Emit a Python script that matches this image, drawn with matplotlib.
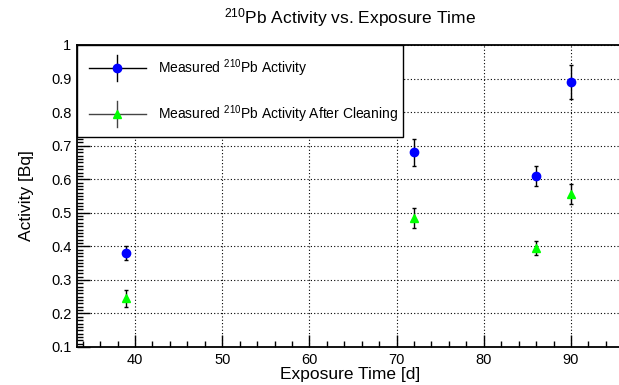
import matplotlib
matplotlib.use("Agg")
import matplotlib.pyplot as plt
from matplotlib.patches import Rectangle
from matplotlib.lines import Line2D
from matplotlib.ticker import MultipleLocator

plt.rcParams['font.family'] = ['Liberation Sans', 'DejaVu Sans']
plt.rcParams['mathtext.default'] = 'regular'

# Data
exposure_days = [39, 72, 86, 90]
activity = [0.38, 0.68, 0.61, 0.89]
activity_err = [0.02, 0.04, 0.03, 0.05]
activity_clean = [0.245, 0.485, 0.395, 0.555]
activity_clean_err = [0.025, 0.03, 0.02, 0.03]

title = r'$^{210}$Pb Activity vs. Exposure Time'
label1 = r'Measured $^{210}$Pb Activity'
label2 = r'Measured $^{210}$Pb Activity After Cleaning'

W, H = 619, 385
fig = plt.figure(figsize=(W / 100, H / 100), dpi=100)
left_px, right_px, top_px, bot_px = 77, 623.3, 45, 347
ax = fig.add_axes([left_px / W, 1 - bot_px / H, (right_px - left_px) / W, (bot_px - top_px) / H])

ax.set_xlim(33.35, 96)
ax.set_ylim(0.1, 1.0)

ax.errorbar(exposure_days, activity, yerr=activity_err, fmt='o', color='#0000ff',
            ecolor='black', elinewidth=1.0, capsize=1.5, markersize=6, zorder=3)
ax.errorbar(exposure_days, activity_clean, yerr=activity_clean_err, fmt='^', color='#00ff00',
            ecolor='black', elinewidth=1.0, capsize=1.5, markersize=6, zorder=3)

ax.xaxis.set_major_locator(MultipleLocator(10))
ax.xaxis.set_minor_locator(MultipleLocator(2))
ax.yaxis.set_major_locator(MultipleLocator(0.1))
ax.yaxis.set_minor_locator(MultipleLocator(0.01))
ax.set_yticks([0.1, 0.2, 0.3, 0.4, 0.5, 0.6, 0.7, 0.8, 0.9, 1.0])
ax.set_yticklabels(['0.1', '0.2', '0.3', '0.4', '0.5', '0.6', '0.7', '0.8', '0.9', '1'])
ax.tick_params(which='both', direction='in', labelsize=10.5, width=1, color='black')
ax.tick_params(which='major', length=9, pad=4)
ax.tick_params(which='minor', length=4.5)
ax.grid(True, which='major', color='black', linestyle=(0, (1, 2)), linewidth=0.8)
for s in ax.spines.values():
    s.set_linewidth(1.3)

ax.set_xlabel('Exposure Time [d]', fontsize=12.5, labelpad=0)
ax.set_ylabel('Activity [Bq]', fontsize=12.5, labelpad=12)
fig.text(350 / W, 1 - 18 / H, title, fontsize=12.5, ha='center', va='center')

# Legend (manual, ROOT style)
ax_w = right_px - left_px
ax_h = bot_px - top_px
def ax_x(px):
    return (px - left_px) / ax_w
def ax_y(py):
    return (bot_px - py) / ax_h

ax.add_patch(Rectangle((0, ax_y(137)), ax_x(403), 1 - ax_y(137), transform=ax.transAxes,
                       facecolor='white', edgecolor='black', linewidth=1.0, zorder=5, clip_on=False))
entries = [(68, 'o', '#0000ff', 'black', label1), (114, '^', '#00ff00', '#444444', label2)]
for py, mk, mc, lc, lab in entries:
    yc = ax_y(py)
    ax.add_line(Line2D([ax_x(89), ax_x(146)], [yc, yc], color=lc, lw=1.0,
                       transform=ax.transAxes, zorder=6))
    ax.add_line(Line2D([ax_x(117), ax_x(117)], [ax_y(py - 13), ax_y(py + 13)], color=lc, lw=1.0,
                       transform=ax.transAxes, zorder=6))
    ax.add_line(Line2D([ax_x(117)], [yc], marker=mk, markersize=6, color=mc, linestyle='none',
                       transform=ax.transAxes, zorder=7))
    ax.text(ax_x(158), yc, lab, transform=ax.transAxes, fontsize=10, va='center', ha='left', zorder=7)

fig.savefig('out.png', dpi=100)
